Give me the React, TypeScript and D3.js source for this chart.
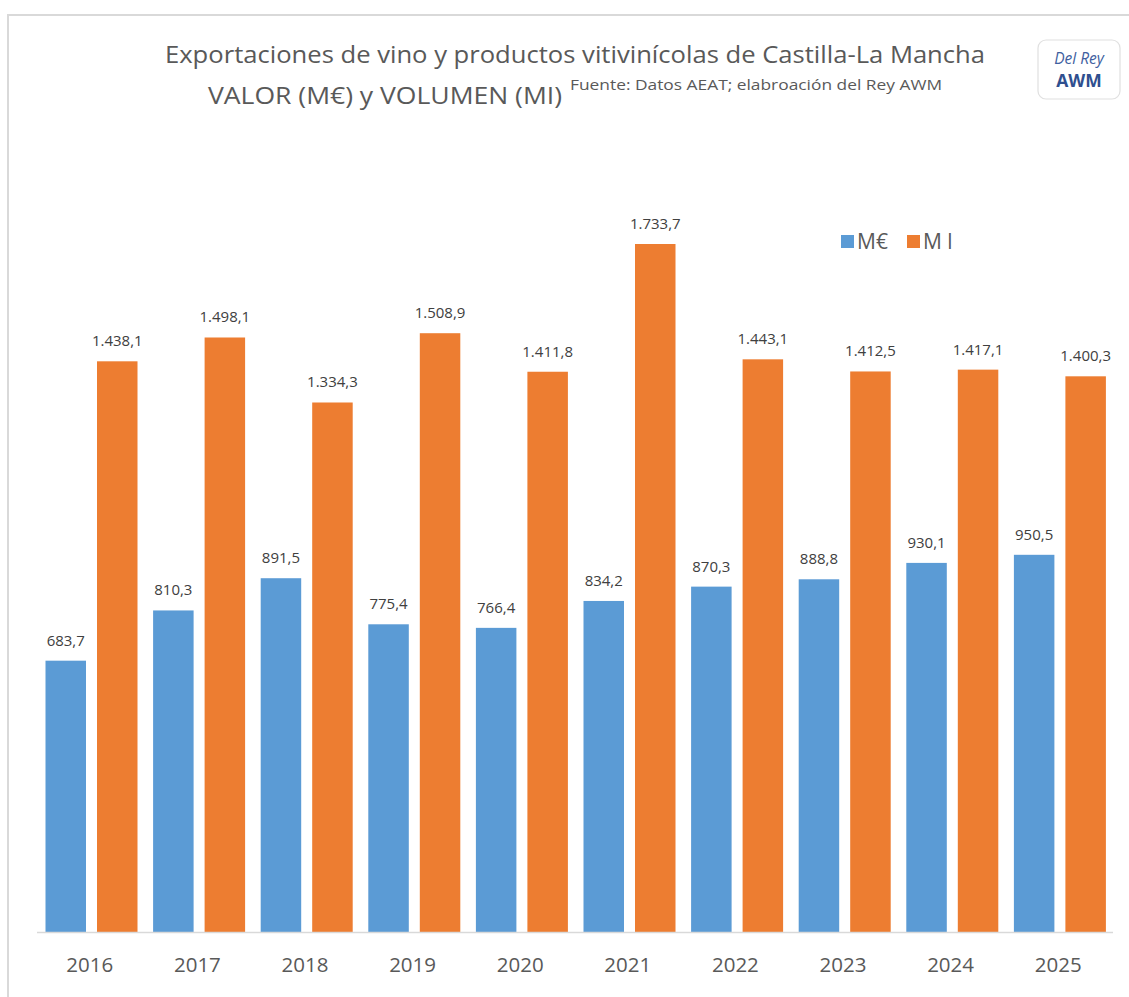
import React from "react";
import * as d3 from "d3";

const years = ["2016", "2017", "2018", "2019", "2020", "2021", "2022", "2023", "2024", "2025"];
const valorMEur = [683.7, 810.3, 891.5, 775.4, 766.4, 834.2, 870.3, 888.8, 930.1, 950.5];
const volumenMl = [1438.1, 1498.1, 1334.3, 1508.9, 1411.8, 1733.7, 1443.1, 1412.5, 1417.1, 1400.3];
const seriesNames = ["M€", "M l"];
const seriesColors = ["#5B9BD5", "#ED7D31"];

const W = 1129;
const H = 997;
const FONT = "'Open Sans', sans-serif";

const fmt = (v: number) => {
  const s = v.toFixed(1).replace(".", ",");
  const [i, d] = s.split(",");
  const ii = i.replace(/\B(?=(\d{3})+(?!\d))/g, ".");
  return ii + "," + d;
};

export default function App() {
  const x0 = d3.scaleBand<string>().domain(years).range([37, 1113]).paddingInner(0).paddingOuter(0);
  const y = d3.scaleLinear().domain([0, 1733.7]).range([932, 244]);
  const bw = 40.5;
  const offsets = [8.5, 60];
  const series = [valorMEur, volumenMl];

  return (
    <svg width={W} height={H} style={{ display: "block", position: "absolute", left: 0, top: 0 }}>
      <rect x={0} y={0} width={W} height={H} fill="#fff" />
      <path d={`M8,${H} L8,15 L${W},15`} fill="none" stroke="#d9d9d9" strokeWidth={2} />
      <text x={575} y={63} textAnchor="middle" fontFamily={FONT} fontSize={24} fill="#595959" textLength={820} lengthAdjust="spacingAndGlyphs">
        Exportaciones de vino y productos vitivinícolas de Castilla-La Mancha
      </text>
      <text x={208} y={104} fontFamily={FONT} fontSize={24} fill="#595959" textLength={354} lengthAdjust="spacingAndGlyphs">
        VALOR (M€) y VOLUMEN (MI)
      </text>
      <text x={570} y={90} fontFamily={FONT} fontSize={14} fill="#595959" textLength={372} lengthAdjust="spacingAndGlyphs">
        Fuente: Datos AEAT; elabroación del Rey AWM
      </text>
      <rect x={1038} y={40} width={82} height={59} rx={8} fill="#fff" stroke="#e0e0e0" strokeWidth={1.2} />
      <text x={1079} y={64} textAnchor="middle" fontFamily={FONT} fontSize={15.5} fontStyle="italic" fill="#3f5f9f">Del Rey</text>
      <text x={1079} y={87} textAnchor="middle" fontFamily={FONT} fontSize={17.5} fontWeight="bold" fill="#2f4f8f">AWM</text>

      <g>
        {seriesNames.map((n, i) => (
          <g key={n} transform={`translate(${i === 0 ? 841 : 907},235)`}>
            <rect x={0} y={0} width={13} height={13} fill={seriesColors[i]} />
            <text x={16} y={14} fontFamily={FONT} fontSize={21} fill="#595959">{n}</text>
          </g>
        ))}
      </g>

      {series.map((vals, si) => (
        <g key={si}>
          {vals.map((v, i) => {
            const bx = (x0(years[i]) as number) + offsets[si];
            return (
              <g key={i}>
                <rect x={bx} y={y(v)} width={bw} height={y(0) - y(v)} fill={seriesColors[si]} />
                <text x={bx + bw / 2} y={y(v) - 15} textAnchor="middle" fontFamily={FONT} fontSize={15} fill="#404040">
                  {fmt(v)}
                </text>
              </g>
            );
          })}
        </g>
      ))}

      <line x1={37} x2={1113} y1={932.5} y2={932.5} stroke="#d9d9d9" strokeWidth={1.5} />
      {years.map((yr) => (
        <text key={yr} x={(x0(yr) as number) + x0.bandwidth() / 2 - 1} y={972} textAnchor="middle" fontFamily={FONT} fontSize={20.5} fill="#595959">
          {yr}
        </text>
      ))}
    </svg>
  );
}
